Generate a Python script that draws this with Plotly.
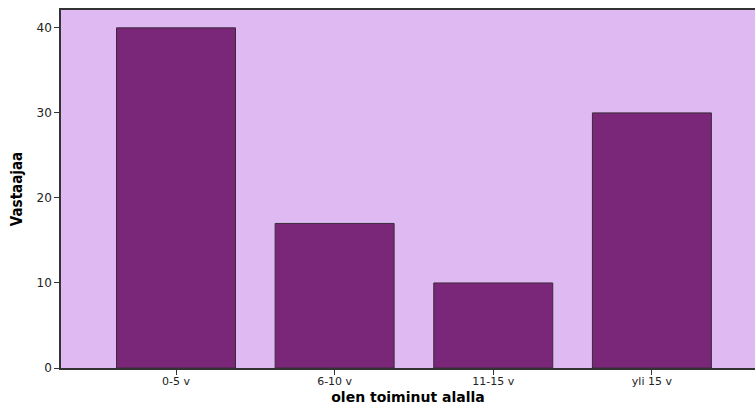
import plotly.graph_objects as go

categories = ["0-5 v", "6-10 v", "11-15 v", "yli 15 v"]
values = [40, 17, 10, 30]
y_ticks = [0, 10, 20, 30, 40]

fig = go.Figure()
fig.add_trace(go.Bar(
    x=list(range(len(categories))),
    y=values,
    width=0.75,
    marker=dict(color="#7B2779", line=dict(color="#3A2A3A", width=1)),
    hoverinfo="skip",
))

fig.update_layout(
    width=755, height=405,
    margin=dict(l=61, r=0, t=10, b=37),
    paper_bgcolor="white",
    plot_bgcolor="#DFBAF2",
    showlegend=False,
    font=dict(family="DejaVu Sans", size=12, color="#222222"),
)
fig.update_xaxes(
    range=[-0.725, 3.65],
    tickmode="array",
    tickvals=list(range(len(categories))),
    ticktext=categories,
    ticks="outside", ticklen=5, tickcolor="#333333",
    ticklabelstandoff=-3,
    showgrid=False, zeroline=False, automargin=False,
    showline=True, linecolor="#333333", linewidth=1.5, mirror=True,
    tickfont=dict(size=11),
    title=dict(text="<b>olen toiminut alalla</b>", font=dict(family="DejaVu Sans", size=14, color="black"), standoff=6),
)
fig.update_yaxes(
    range=[0, 42.1],
    tickmode="array",
    tickvals=y_ticks,
    ticks="outside", ticklen=5, tickcolor="#333333",
    showgrid=False, zeroline=False, automargin=False,
    showline=True, linecolor="#333333", linewidth=1.5, mirror=True,
    tickfont=dict(size=12),
    title=dict(text="<b>Vastaajaa</b>", font=dict(family="Liberation Sans Narrow, DejaVu Sans Condensed", size=15, color="black"), standoff=10),
)

fig.write_html("out.html", config={"displayModeBar": False}, post_script="document.body.style.margin='0';")
